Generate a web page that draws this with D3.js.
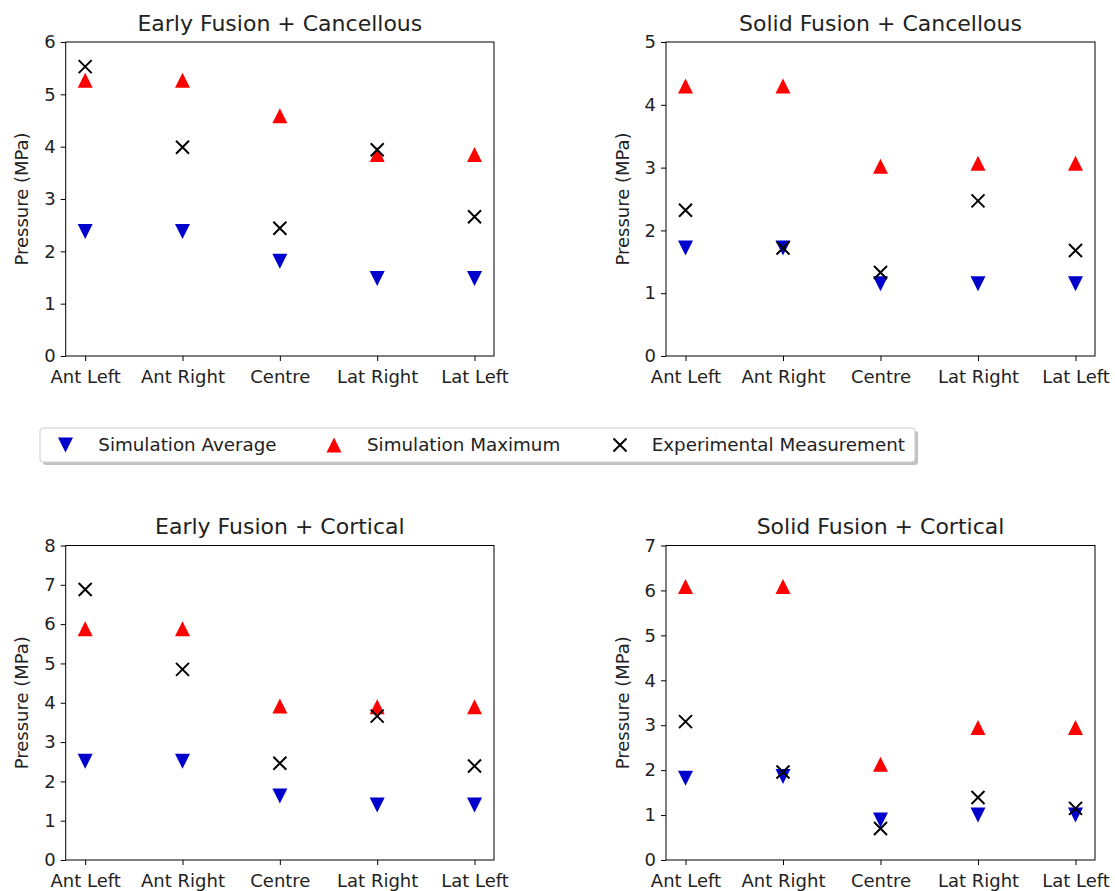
<!DOCTYPE html>
<html>
<head>
<meta charset="utf-8">
<script src="https://cdn.jsdelivr.net/npm/d3@7"></script>
<style>
  body { margin: 0; background: #fff; }
  svg { font-family: "DejaVu Sans", sans-serif; }
</style>
</head>
<body>
<svg id="chart" width="1115" height="891"></svg>
<script>
// categories along the x axis
const locations = ['Ant Left', 'Ant Right', 'Centre', 'Lat Right', 'Lat Left'];

// Early Fusion + Cancellous
const earlyCancAvg = [2.38, 2.38, 1.81, 1.48, 1.48];
const earlyCancMax = [5.27, 5.27, 4.59, 3.85, 3.85];
const earlyCancExp = [5.53, 3.99, 2.44, 3.94, 2.66];

// Solid Fusion + Cancellous
const solidCancAvg = [1.72, 1.72, 1.15, 1.15, 1.15];
const solidCancMax = [4.30, 4.30, 3.02, 3.07, 3.07];
const solidCancExp = [2.32, 1.72, 1.33, 2.47, 1.68];

// Early Fusion + Cortical
const earlyCortAvg = [2.51, 2.51, 1.63, 1.40, 1.40];
const earlyCortMax = [5.88, 5.88, 3.92, 3.90, 3.90];
const earlyCortExp = [6.88, 4.85, 2.46, 3.66, 2.39];

// Solid Fusion + Cortical
const solidCortAvg = [1.82, 1.86, 0.89, 1.00, 1.00];
const solidCortMax = [6.09, 6.09, 2.13, 2.95, 2.95];
const solidCortExp = [3.08, 1.96, 0.70, 1.39, 1.15];

const seriesNames = ['Simulation Average', 'Simulation Maximum', 'Experimental Measurement'];

const BLUE = '#0000cd';
const RED = '#ff0000';

const svg = d3.select('#chart');

const panels = [
  { title: 'Early Fusion + Cancellous', yMax: 6, avg: earlyCancAvg, max: earlyCancMax, exp: earlyCancExp,
    box: { left: 65.7, right: 494, top: 42, bottom: 356 } },
  { title: 'Solid Fusion + Cancellous', yMax: 5, avg: solidCancAvg, max: solidCancMax, exp: solidCancExp,
    box: { left: 666, right: 1095, top: 42, bottom: 356 } },
  { title: 'Early Fusion + Cortical', yMax: 8, avg: earlyCortAvg, max: earlyCortMax, exp: earlyCortExp,
    box: { left: 65.7, right: 494, top: 545.5, bottom: 860 } },
  { title: 'Solid Fusion + Cortical', yMax: 7, avg: solidCortAvg, max: solidCortMax, exp: solidCortExp,
    box: { left: 666, right: 1095, top: 545.5, bottom: 860 } },
];

const triDown = d3.symbol().type({ draw(ctx, size) {
  const r = Math.sqrt(size) / 2;
  ctx.moveTo(-r, -r); ctx.lineTo(r, -r); ctx.lineTo(0, r); ctx.closePath();
}}).size(15 * 15);
const triUp = d3.symbol().type({ draw(ctx, size) {
  const r = Math.sqrt(size) / 2;
  ctx.moveTo(-r, r); ctx.lineTo(r, r); ctx.lineTo(0, -r); ctx.closePath();
}}).size(15 * 15);
const cross = d3.symbol().type({ draw(ctx, size) {
  const r = Math.sqrt(size) / 2;
  ctx.moveTo(-r, -r); ctx.lineTo(r, r); ctx.moveTo(-r, r); ctx.lineTo(r, -r);
}}).size(13 * 13);

function drawPanel(p) {
  const { left, right, top, bottom } = p.box;
  const g = svg.append('g');

  // matplotlib style margins: 5% on each side of index range
  const x = d3.scaleLinear().domain([-0.2, locations.length - 1 + 0.2]).range([left, right]);
  const y = d3.scaleLinear().domain([0, p.yMax]).range([bottom, top]);

  const xAxis = g.append('g')
    .attr('transform', `translate(0,${bottom})`)
    .call(d3.axisBottom(x).tickValues(d3.range(locations.length))
      .tickFormat((i) => locations[i]).tickSizeOuter(0).tickSize(5));
  const yAxis = g.append('g')
    .attr('transform', `translate(${left},0)`)
    .call(d3.axisLeft(y).ticks(p.yMax).tickFormat(d3.format('d')).tickSizeOuter(0).tickSize(5).tickPadding(5));

  [xAxis, yAxis].forEach((a) => {
    a.select('.domain').remove();
    a.selectAll('line').attr('stroke', '#000').attr('stroke-width', 1);
    a.selectAll('text').attr('font-size', 18).attr('fill', '#222').attr('font-family', 'DejaVu Sans');
  });
  xAxis.selectAll('text').attr('y', 27).attr('dy', 0);

  g.append('rect')
    .attr('x', left).attr('y', top)
    .attr('width', right - left).attr('height', bottom - top)
    .attr('fill', 'none').attr('stroke', '#000').attr('stroke-width', 1);

  g.append('text')
    .attr('x', (left + right) / 2).attr('y', top - 11.5)
    .attr('text-anchor', 'middle').attr('font-size', 22).attr('fill', '#222')
    .text(p.title);

  g.append('text')
    .attr('transform', `translate(${left - 37.4},${(top + bottom) / 2}) rotate(-90)`)
    .attr('text-anchor', 'middle').attr('font-size', 18).attr('fill', '#222')
    .text('Pressure (MPa)');

  const idx = d3.range(locations.length);
  g.selectAll('.avg').data(idx).join('path')
    .attr('d', triDown).attr('fill', BLUE)
    .attr('transform', (i) => `translate(${x(i)},${y(p.avg[i])})`);
  g.selectAll('.max').data(idx).join('path')
    .attr('d', triUp).attr('fill', RED)
    .attr('transform', (i) => `translate(${x(i)},${y(p.max[i])})`);
  g.selectAll('.exp').data(idx).join('path')
    .attr('d', cross).attr('fill', 'none').attr('stroke', '#000').attr('stroke-width', 2)
    .attr('transform', (i) => `translate(${x(i)},${y(p.exp[i])})`);
}

panels.forEach(drawPanel);

// legend
const legend = svg.append('g');
const lx = 40, ly = 428, lw = 875, lh = 34;
legend.append('rect').attr('x', lx + 3).attr('y', ly + 3).attr('width', lw).attr('height', lh)
  .attr('rx', 3).attr('fill', '#999').attr('opacity', 0.6);
legend.append('rect').attr('x', lx).attr('y', ly).attr('width', lw).attr('height', lh)
  .attr('rx', 3).attr('fill', '#fff').attr('stroke', '#ccc').attr('stroke-width', 1);

const legendItems = [
  { name: seriesNames[0], sym: triDown, fill: BLUE, stroke: 'none', x: 65.5, tx: 98.3 },
  { name: seriesNames[1], sym: triUp, fill: RED, stroke: 'none', x: 334, tx: 367 },
  { name: seriesNames[2], sym: cross, fill: 'none', stroke: '#000', x: 620, tx: 651.7 },
];
legendItems.forEach((it) => {
  legend.append('path').attr('d', it.sym)
    .attr('fill', it.fill).attr('stroke', it.stroke).attr('stroke-width', 2)
    .attr('transform', `translate(${it.x},${ly + lh / 2})`);
  legend.append('text').attr('x', it.tx).attr('y', 450.7)
    .attr('font-size', 18.3).attr('fill', '#222').text(it.name);
});
</script>
</body>
</html>
